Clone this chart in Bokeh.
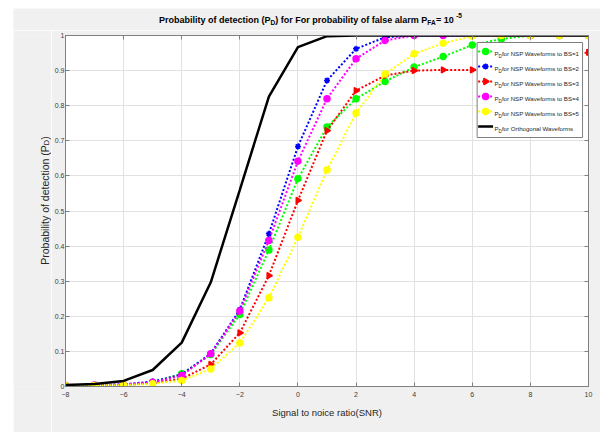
import math
from bokeh.plotting import figure
from bokeh.layouts import column, row
from bokeh.models import Label, FixedTicker, LinearAxis, NumeralTickFormatter, Range1d
from bokeh.core.properties import value
from bokeh.embed import file_html
from bokeh.resources import INLINE

# ---------------- data ----------------
snr = [-8, -7, -6, -5, -4, -3, -2, -1, 0, 1, 2, 3, 4, 5, 6, 7, 8, 9, 10]
pd_bs1 = [0.002, 0.003, 0.005, 0.012, 0.036, 0.091, 0.205, 0.389, 0.592, 0.739, 0.820, 0.869, 0.910, 0.940, 0.973, 0.990, 1.000, 1.000, 1.000]
pd_bs2 = [0.003, 0.004, 0.006, 0.014, 0.034, 0.094, 0.219, 0.435, 0.684, 0.872, 0.962, 0.995, 1.000, 1.000, 1.000, 1.000, 1.000, 1.000, 1.000]
pd_bs3 = [0.002, 0.003, 0.004, 0.010, 0.022, 0.063, 0.153, 0.316, 0.530, 0.729, 0.843, 0.886, 0.900, 0.902, 0.902, 0.905, 0.920, 0.940, 0.952]
pd_bs4 = [0.003, 0.004, 0.006, 0.012, 0.031, 0.093, 0.215, 0.416, 0.642, 0.820, 0.934, 0.986, 1.000, 1.000, 1.000, 1.000, 1.000, 1.000, 1.000]
pd_bs5 = [0.002, 0.003, 0.004, 0.008, 0.017, 0.050, 0.124, 0.253, 0.425, 0.617, 0.779, 0.890, 0.948, 0.978, 0.998, 1.000, 1.000, 1.000, 1.000]
pd_orth = [0.004, 0.007, 0.016, 0.047, 0.125, 0.297, 0.560, 0.826, 0.967, 0.998, 1.000, 1.000, 1.000, 1.000, 1.000, 1.000, 1.000, 1.000, 1.000]

x_ticks = [-8, -6, -4, -2, 0, 2, 4, 6, 8, 10]
y_ticks = [0, 0.1, 0.2, 0.3, 0.4, 0.5, 0.6, 0.7, 0.8, 0.9, 1]

legend_texts = [" for NSP Waveforms to BS=1", " for NSP Waveforms to BS=2", " for NSP Waveforms to BS=3",
                " for NSP Waveforms to BS=4", " for NSP Waveforms to BS=5", " for Orthogonal Waveforms"]
x_label = "Signal to noice ratio(SNR)"

# ---------------- styling / geometry (page pixels) ----------------
FONT = "Liberation Sans"
BG = "#f0f0f0"
PAGE_L, PAGE_T, PAGE_R, PAGE_B = 13, 8, 600, 432
TITLE_B = 30            # bottom of title strip
YLAB_R = 51             # right edge of y-label strip
FL, FR, FT, FB = 62, 588, 35, 386   # plot frame
X0, X1, Y0, Y1 = -8, 10, 0, 1


def dx(px):
    return X0 + (px - FL) * (X1 - X0) / (FR - FL)


def dy(py):
    return Y0 + (FB - py) * (Y1 - Y0) / (FB - FT)


REG = {' ': 278, '(': 333, ')': 333, '=': 584, '-': 333, '.': 278, 'a': 556, 'b': 556, 'c': 500, 'd': 556,
       'e': 556, 'f': 278, 'g': 556, 'h': 556, 'i': 222, 'j': 222, 'k': 500, 'l': 222, 'm': 833, 'n': 556,
       'o': 556, 'p': 556, 'q': 556, 'r': 333, 's': 500, 't': 278, 'u': 556, 'v': 500, 'w': 722, 'x': 500,
       'y': 500, 'z': 500, 'A': 667, 'B': 667, 'C': 722, 'D': 722, 'E': 667, 'F': 611, 'N': 722, 'O': 778,
       'P': 667, 'R': 722, 'S': 667, 'W': 944}
BOLD = {' ': 278, '(': 333, ')': 333, '=': 584, '-': 333, 'a': 556, 'b': 611, 'c': 556, 'd': 611, 'e': 556,
        'f': 333, 'i': 278, 'l': 278, 'm': 889, 'n': 611, 'o': 611, 'p': 611, 'r': 389, 's': 556, 't': 333,
        'y': 556, 'A': 722, 'D': 722, 'F': 611, 'P': 667}


def tw(s, size, bold=False):
    tab = BOLD if bold else REG
    return sum(tab.get(c, 556) for c in s) / 1000.0 * size


def aux_fig(left, right, top, bottom, frame_top=None, frame_bottom=None):
    """Helper figure whose data coordinates are page pixels (y negated)."""
    ft = top if frame_top is None else frame_top
    fb = bottom if frame_bottom is None else frame_bottom
    f = figure(width=right - left, height=bottom - top,
               x_range=Range1d(left, right), y_range=Range1d(-fb, -ft),
               output_backend="svg", toolbar_location=None,
               x_axis_location=None, y_axis_location=None,
               min_border=0, min_border_left=0, min_border_right=0,
               min_border_top=ft - top, min_border_bottom=bottom - fb)
    f.grid.visible = False
    f.outline_line_color = None
    f.background_fill_color = BG
    f.border_fill_color = BG
    return f


def rich_glyph(f, pieces, x, y, color, angle=0.0, center=True):
    """pieces: (text, size_px, shift_px, bold); x, y = page px of baseline start/centre."""
    total = sum(tw(t, s, b) for t, s, sh, b in pieces)
    if center:
        if angle == 0:
            x -= total / 2
        else:
            y += total / 2
    for t, s, sh, b in pieces:
        lx, ly = (x, y + sh) if angle == 0 else (x + sh, y)
        f.text(x=[lx], y=[-ly], text=[t], text_font=value(FONT), text_font_size=value("%.2fpx" % s),
               text_font_style=value("bold" if b else "normal"), text_color=color,
               text_align=value("left"), text_baseline=value("alphabetic"), angle=angle)
        w = tw(t, s, b)
        if angle == 0:
            x += w
        else:
            y -= w


# ---------------- title strip ----------------
title_fig = aux_fig(PAGE_L, PAGE_R, PAGE_T, TITLE_B)
T, TS = 9.0, 6.5
rich_glyph(title_fig, [("Probability of detection (P", T, 0, True), ("D", TS, 3, True),
                       (") for For probability of false alarm P", T, 0, True), ("FA", TS, 3, True),
                       (" = 10", T, 0, True), ("-5", TS, -4.5, True)], 310, 19, "black")

# ---------------- y-label strip (frame aligned with the main plot frame) ----------------
ylab_fig = aux_fig(PAGE_L, YLAB_R, TITLE_B, PAGE_B, frame_top=FT, frame_bottom=FB)
rich_glyph(ylab_fig, [("Probability of detection (P", 10.5, 0, False), ("D", 7.5, 1.8, False),
                      (")", 10.5, 0, False)], 44, 200, "#262626", angle=math.pi / 2)

# ---------------- main plot ----------------
p = figure(width=PAGE_R - YLAB_R, height=PAGE_B - TITLE_B, x_range=(X0, X1), y_range=(Y0, Y1),
           output_backend="svg", toolbar_location=None,
           min_border_left=FL - YLAB_R, min_border_right=PAGE_R - FR,
           min_border_top=FT - TITLE_B, min_border_bottom=PAGE_B - FB)
p.border_fill_color = BG
p.background_fill_color = "white"
p.outline_line_color = "#7f7f7f"

AX_COL = "#7f7f7f"
TICK_COL = "#404040"
for ax in (p.xaxis[0], p.yaxis[0]):
    ax.major_tick_in = 4
    ax.major_tick_out = 0
    ax.minor_tick_line_color = None
    ax.axis_line_color = AX_COL
    ax.major_tick_line_color = AX_COL
    ax.major_label_text_font = FONT
    ax.major_label_text_font_size = "7px"
    ax.major_label_text_color = TICK_COL
p.xaxis.ticker = FixedTicker(ticks=x_ticks)
p.yaxis.ticker = FixedTicker(ticks=y_ticks)
p.yaxis.formatter = NumeralTickFormatter(format="0.[0]")
p.xaxis.major_label_standoff = 5
p.yaxis.major_label_standoff = 1
p.xaxis.axis_label = x_label
p.xaxis.axis_label_text_font = FONT
p.xaxis.axis_label_text_font_size = "9.5px"
p.xaxis.axis_label_text_font_style = "normal"
p.xaxis.axis_label_text_color = "#262626"
p.xaxis.axis_label_standoff = 7

right_ax = LinearAxis(ticker=FixedTicker(ticks=y_ticks), major_label_text_font_size="0px",
                      major_label_text_color=None,
                      major_tick_in=4, major_tick_out=0, minor_tick_line_color=None,
                      axis_line_color=AX_COL, major_tick_line_color=AX_COL, major_label_standoff=0)
top_ax = LinearAxis(ticker=FixedTicker(ticks=x_ticks), major_label_text_font_size="0px",
                    major_label_text_color=None,
                    major_tick_in=4, major_tick_out=0, minor_tick_line_color=None,
                    axis_line_color=AX_COL, major_tick_line_color=AX_COL, major_label_standoff=0)
p.add_layout(right_ax, "right")
p.add_layout(top_ax, "above")

p.grid.grid_line_color = "#e2e2e2"
p.grid.grid_line_width = 1

series = [
    (pd_bs1, "#00ff00", "circle", 0.0),
    (pd_bs2, "#0000ff", "asterisk", 0.0),
    (pd_bs3, "#ff0000", "triangle", -math.pi / 2),
    (pd_bs4, "#ff00ff", "circle", 0.0),
    (pd_bs5, "#ffff00", "circle", 0.0),
]
for vals, col, mk, ang in series:
    p.line(snr, vals, line_color=col, line_width=2, line_dash="2 2")
    p.scatter(snr, vals, marker=mk, size=6, angle=ang, fill_color=col, line_color=col, line_width=1.5)
p.line(snr, pd_orth, line_color="black", line_width=2.5)

# ---------------- legend (manual, for subscripts) ----------------
LG_L, LG_R, LG_T, LG_B = 476, 582, 42, 137
p.quad(left=[dx(LG_L)], right=[dx(LG_R)], top=[dy(LG_T)], bottom=[dy(LG_B)],
       fill_color="white", line_color="#7f7f7f", line_width=1)
row_y = [51 + 15 * i for i in range(6)]
for i, (vals, col, mk, ang) in enumerate(series):
    yy = dy(row_y[i])
    p.line([dx(477), dx(492)], [yy, yy], line_color=col, line_width=2, line_dash="2 2")
    p.scatter([dx(484.5)], [yy], marker=mk, size=6, angle=ang, fill_color=col, line_color=col, line_width=1.5)
p.line([dx(477), dx(492)], [dy(row_y[5]), dy(row_y[5])], line_color="black", line_width=2.5)


def rich_label(pieces, x, y, color):
    for t, s, sh, b in pieces:
        p.add_layout(Label(x=dx(x), y=dy(y + sh), text=t, text_font=FONT, text_font_size="%.2fpx" % s,
                           text_font_style="bold" if b else "normal", text_color=color,
                           text_align="left", text_baseline="alphabetic"))
        x += tw(t, s, b)


for i, txt in enumerate(legend_texts):
    rich_label([("P", 6.1, 0, False), ("D", 4.6, 2.2, False), (txt, 6.1, 0, False)],
               493.5, row_y[i] + 2.3, "#262626")

root = column(title_fig, row(ylab_fig, p))
root.styles = {"margin-left": "%dpx" % PAGE_L, "margin-top": "%dpx" % PAGE_T}

open("out.html", "w").write(file_html(root, INLINE))
